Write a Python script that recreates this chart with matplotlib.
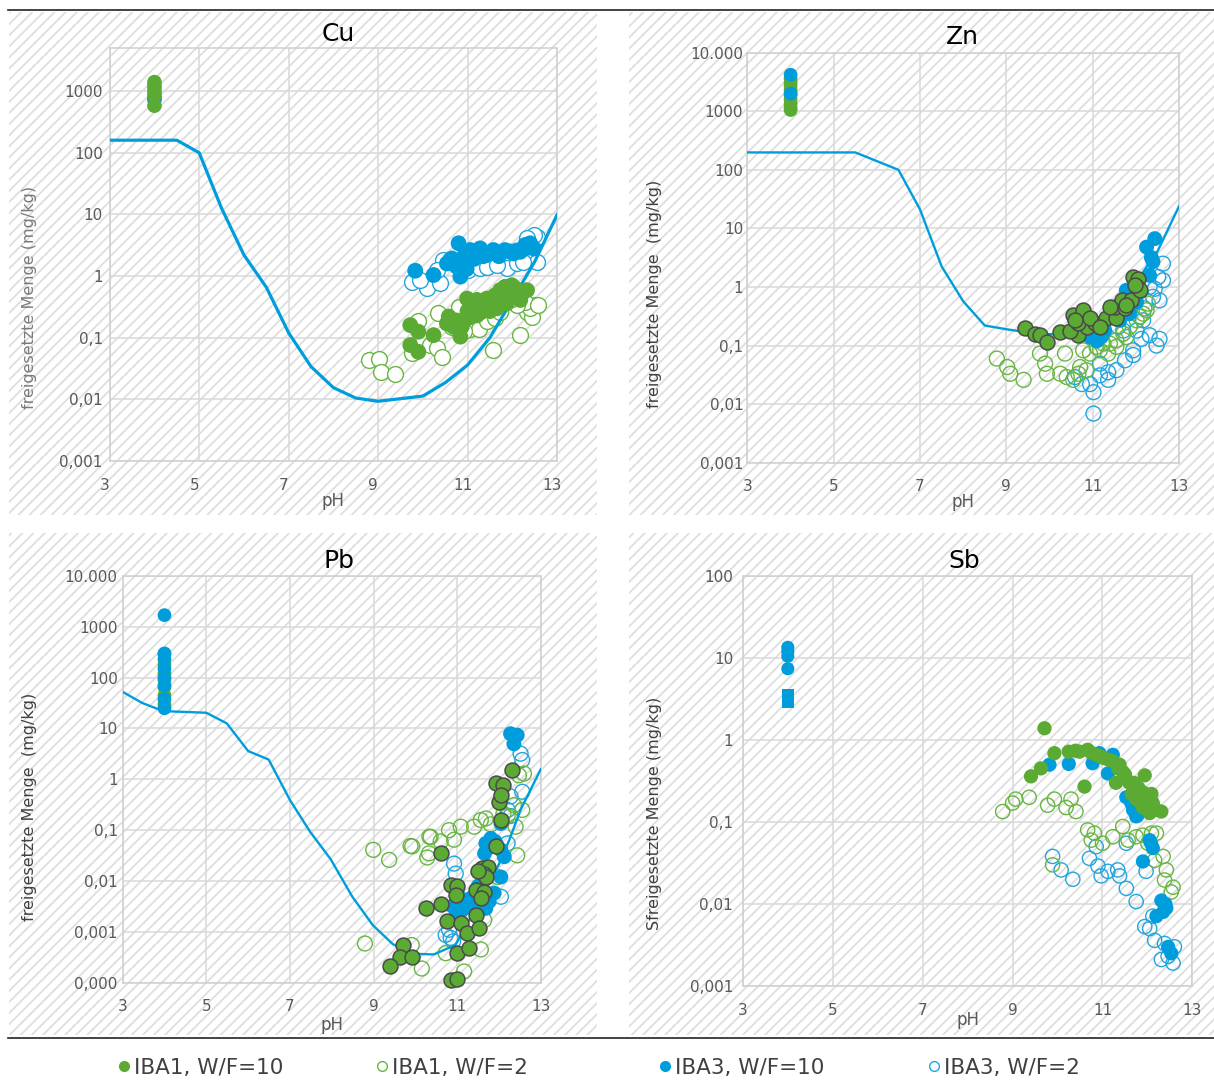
import matplotlib
matplotlib.use("Agg")
import matplotlib.pyplot as plt
from matplotlib.patches import Rectangle
from matplotlib.lines import Line2D
from matplotlib.transforms import ScaledTranslation

# ---------------- DATA ----------------
xticks = [3, 5, 7, 9, 11, 13]

# Cu
cu_f1_ph = [9.72, 9.9, 9.72, 9.9, 10.24, 10.54, 10.58, 10.76, 10.84, 10.87, 10.99, 11.1, 11.21, 11.28, 11.36, 11.43, 11.51, 11.62, 11.73, 11.84, 11.99, 12.07, 12.33, 11.66, 11.21, 11.02, 10.69, 11.88, 12.18, 11.5, 11.8, 12.0, 12.2, 11.3, 11.0]
cu_f1_val = [0.16, 0.125, 0.076, 0.059, 0.11, 0.17, 0.22, 0.19, 0.104, 0.15, 0.43, 0.32, 0.41, 0.34, 0.28, 0.43, 0.36, 0.49, 0.59, 0.67, 0.71, 0.63, 0.59, 0.30, 0.23, 0.21, 0.15, 0.36, 0.41, 0.27, 0.45, 0.5, 0.5, 0.26, 0.27]
cu_o1_ph = [8.8, 9.03, 9.07, 9.38, 9.76, 9.9, 10.35, 10.17, 10.31, 10.43, 10.8, 11.06, 11.25, 11.43, 11.62, 11.58, 11.92, 12.18, 12.33, 12.44, 12.51, 12.4, 12.29, 12.1, 11.99, 10.91, 10.65, 11.73, 12.57]
cu_o1_val = [0.044, 0.045, 0.028, 0.026, 0.056, 0.19, 0.25, 0.076, 0.067, 0.049, 0.32, 0.14, 0.14, 0.19, 0.21, 0.063, 0.41, 0.11, 0.26, 0.22, 0.34, 0.30, 0.38, 0.34, 0.43, 0.13, 0.15, 0.26, 0.34]
cu_f3_ph = [9.83, 10.24, 10.65, 10.8, 10.84, 10.76, 10.95, 11.06, 11.21, 11.28, 11.43, 11.58, 11.73, 11.84, 12.03, 12.18, 12.29, 12.4, 12.48, 10.91, 10.54, 11.13, 11.15, 11.35, 11.7, 11.95, 12.1, 12.35, 10.98]
cu_f3_val = [1.22, 1.04, 1.93, 3.4, 0.98, 1.42, 2.33, 2.64, 2.48, 2.81, 2.19, 2.64, 2.33, 2.64, 2.33, 2.48, 3.2, 3.4, 2.8, 1.6, 1.6, 2.05, 1.9, 2.1, 2.1, 2.5, 2.6, 2.9, 1.3]
cu_o3_ph = [9.76, 10.09, 10.39, 10.46, 11.0, 11.28, 11.5, 11.88, 12.1, 12.55, 12.48, 12.33, 12.56, 9.94, 10.31, 10.61, 10.84, 11.43, 11.66, 12.25]
cu_o3_val = [0.81, 0.63, 0.76, 1.82, 1.25, 1.33, 1.6, 1.33, 1.6, 4.3, 4.6, 4.1, 1.7, 0.87, 1.25, 1.82, 1.42, 1.42, 1.5, 1.7]
cu_ph4_green = [1400, 1250, 1100, 950, 850, 580]
cu_ph4_blue = [780, 720]
cu_line_ph = [3, 4.5, 5, 5.5, 6, 6.5, 7, 7.5, 8, 8.5, 9, 10, 10.5, 11, 11.5, 12, 12.5, 13]
cu_line_val = [160, 160, 100, 12.6, 2.2, 0.66, 0.12, 0.034, 0.0155, 0.0105, 0.0093, 0.0113, 0.0186, 0.036, 0.1, 0.41, 1.7, 9.8]

# Zn
zn_f1_ph = [9.44, 9.67, 9.78, 9.94, 10.25, 10.55, 10.78, 10.67, 10.48, 10.86, 11.05, 11.32, 11.55, 11.52, 11.67, 11.75, 11.9, 11.94, 12.05, 12.02, 12.09, 11.98, 10.67, 10.94, 11.17, 11.4, 11.78, 10.59]
zn_f1_val = [0.2, 0.16, 0.15, 0.115, 0.17, 0.33, 0.4, 0.15, 0.18, 0.21, 0.24, 0.29, 0.29, 0.46, 0.59, 0.43, 0.61, 1.48, 1.39, 1.0, 0.88, 1.07, 0.24, 0.29, 0.21, 0.46, 0.49, 0.27]
zn_o1_ph = [8.78, 9.02, 9.09, 9.4, 9.9, 9.94, 10.25, 10.36, 10.4, 10.55, 10.71, 10.78, 10.86, 10.94, 11.09, 11.25, 11.4, 11.55, 11.71, 11.86, 12.02, 12.17, 12.25, 12.28, 11.78, 11.55, 10.67, 9.78, 11.17, 11.36, 12.09]
zn_o1_val = [0.06, 0.043, 0.033, 0.026, 0.049, 0.033, 0.033, 0.073, 0.029, 0.026, 0.043, 0.083, 0.038, 0.073, 0.095, 0.108, 0.108, 0.123, 0.16, 0.21, 0.27, 0.35, 0.4, 0.52, 0.14, 0.095, 0.033, 0.073, 0.083, 0.073, 0.31]
zn_f3_ph = [12.44, 12.25, 12.36, 12.4, 12.32, 11.78, 11.13, 10.94, 11.63, 11.86, 11.28, 12.02, 11.1, 11.2]
zn_f3_val = [6.7, 4.8, 3.2, 2.7, 1.58, 0.88, 0.13, 0.14, 0.27, 0.35, 0.18, 0.55, 0.12, 0.14]
zn_o3_ph = [10.94, 10.75, 11.02, 11.02, 11.17, 11.36, 11.55, 11.36, 11.75, 11.94, 12.13, 12.32, 12.48, 12.55, 12.55, 12.44, 12.52, 12.63, 12.32, 12.2, 12.02, 12.17, 11.71, 11.59, 11.94, 10.59, 11.17, 12.63, 12.4]
zn_o3_val = [0.022, 0.022, 0.016, 0.0069, 0.031, 0.035, 0.038, 0.026, 0.056, 0.069, 0.13, 0.15, 0.1, 0.13, 0.59, 0.93, 1.48, 2.5, 1.0, 0.43, 0.18, 0.27, 0.18, 0.21, 0.083, 0.029, 0.049, 1.3, 0.68]
zn_ph4_green = [3600, 3100, 2700, 2300, 1900, 1600, 1350, 1150, 1050]
zn_ph4_blue = [4200, 2000]
zn_line_ph = [3, 5.5, 6.5, 7.0, 7.5, 8.0, 8.5, 9.0, 9.8, 10.5, 11, 11.5, 12, 12.5, 13]
zn_line_val = [198, 198, 100, 21, 2.25, 0.57, 0.22, 0.19, 0.155, 0.16, 0.22, 0.45, 1.2, 4.0, 23.7]

# Pb
pb_f1_ph = [12.31, 11.92, 12.08, 12.0, 12.04, 12.04, 11.92, 10.6, 11.6, 11.72, 11.64, 10.84, 11.0, 10.96, 11.44, 11.64, 11.56, 10.24, 10.6, 10.76, 11.08, 11.44, 11.24, 11.52, 11.0, 11.28, 10.84, 11.0, 9.71, 9.63, 9.91, 9.39, 11.68, 11.5]
pb_f1_val = [1.5, 0.83, 0.78, 0.36, 0.49, 0.158, 0.048, 0.035, 0.018, 0.019, 0.014, 0.0083, 0.0078, 0.0054, 0.0066, 0.0062, 0.0046, 0.0029, 0.0036, 0.0016, 0.0015, 0.0021, 0.00093, 0.0012, 0.00038, 0.00048, 0.000115, 0.000118, 0.00055, 0.00032, 0.00032, 0.00021, 0.012, 0.016]
pb_o1_ph = [8.79, 10.15, 9.91, 8.99, 9.37, 9.88, 10.33, 10.28, 9.92, 10.36, 10.8, 11.08, 11.4, 11.56, 11.68, 12.2, 12.39, 12.43, 12.55, 12.59, 12.47, 12.35, 10.32, 10.92, 11.96, 11.64, 11.56, 11.16, 10.72, 10.6, 11.8, 12.1]
pb_o1_val = [0.00059, 0.00019, 0.00055, 0.041, 0.026, 0.049, 0.074, 0.029, 0.048, 0.074, 0.1, 0.117, 0.117, 0.158, 0.17, 0.19, 0.117, 0.032, 0.25, 1.3, 1.2, 0.31, 0.035, 0.065, 0.012, 0.0017, 0.00045, 0.000166, 0.00038, 0.06, 0.13, 0.21]
pb_f3_ph = [12.27, 12.43, 12.35, 11.68, 11.8, 12.04, 12.12, 11.6, 12.04, 11.76, 11.68, 11.2, 11.12, 10.96, 10.88, 11.36, 11.0, 12.04, 11.56, 11.88, 11.5, 11.3, 11.75, 11.9, 11.65]
pb_f3_val = [7.9, 7.4, 5.0, 0.055, 0.069, 0.041, 0.03, 0.0104, 0.012, 0.004, 0.0029, 0.004, 0.0027, 0.002, 0.0032, 0.0034, 0.0058, 0.135, 0.0066, 0.0058, 0.008, 0.0045, 0.045, 0.06, 0.035]
pb_o3_ph = [12.51, 12.55, 12.55, 12.2, 12.27, 10.92, 10.96, 12.04, 10.72, 10.84, 12.27, 12.2, 10.8, 10.9]
pb_o3_val = [3.2, 2.4, 0.57, 0.25, 0.46, 0.022, 0.014, 0.0049, 0.00087, 0.00076, 0.19, 0.055, 0.0011, 0.00065]
pb_ph4_green = [290, 180, 120, 90, 65, 45, 30]
pb_ph4_blue = [1700, 300, 230, 150, 100, 70, 38, 25]
pb_line_ph = [3, 3.46, 3.97, 5.0, 5.49, 6.0, 6.49, 7.0, 7.48, 7.97, 8.49, 8.98, 9.46, 9.93, 10.44, 10.95, 11.5, 12.0, 12.24, 12.51, 12.99]
pb_line_val = [52.7, 32, 22, 20.4, 12.6, 3.6, 2.45, 0.39, 0.093, 0.027, 0.0049, 0.00135, 0.00057, 0.00037, 0.00036, 0.00055, 0.0035, 0.022, 0.064, 0.25, 1.57]

# Sb
sb_f1_ph = [9.71, 9.93, 10.25, 9.41, 9.63, 10.6, 10.49, 10.67, 10.86, 11.04, 11.23, 11.38, 11.45, 11.3, 11.53, 11.68, 11.94, 11.83, 11.97, 12.09, 12.05, 12.31, 12.12, 11.75, 11.6, 11.9,
            10.4, 10.75, 10.95, 11.15, 11.35, 11.5, 11.7, 11.8, 11.9, 12.0, 12.1, 12.2, 11.65, 11.85]
sb_f1_val = [1.39, 0.69, 0.72, 0.36, 0.45, 0.27, 0.72, 0.76, 0.66, 0.6, 0.55, 0.5, 0.41, 0.3, 0.33, 0.27, 0.37, 0.22, 0.19, 0.22, 0.128, 0.134, 0.17, 0.19, 0.3, 0.15,
             0.74, 0.7, 0.63, 0.57, 0.45, 0.38, 0.3, 0.26, 0.23, 0.2, 0.16, 0.14, 0.22, 0.17]
sb_o1_ph = [8.78, 9.0, 9.07, 9.37, 9.78, 9.93, 10.19, 10.3, 10.41, 10.67, 10.82, 11.0, 11.23, 11.45, 11.57, 11.75, 11.9, 12.09, 12.2, 12.16, 12.35, 12.42, 12.38, 12.53, 12.57, 9.89, 10.75, 12.01]
sb_o1_val = [0.134, 0.17, 0.19, 0.2, 0.16, 0.19, 0.15, 0.19, 0.134, 0.08, 0.073, 0.055, 0.066, 0.088, 0.06, 0.066, 0.069, 0.073, 0.073, 0.034, 0.038, 0.026, 0.0196, 0.014, 0.016, 0.03, 0.06, 0.055]
sb_f3_ph = [9.82, 10.25, 10.78, 11.23, 11.12, 11.64, 11.75, 11.68, 12.05, 12.12, 11.9, 12.31, 12.42, 12.2, 12.46, 12.53, 10.93, 11.53, 11.7, 11.78, 11.72, 12.08, 12.4, 12.35]
sb_f3_val = [0.5, 0.51, 0.52, 0.66, 0.39, 0.17, 0.117, 0.14, 0.06, 0.048, 0.033, 0.011, 0.0089, 0.0071, 0.003, 0.0025, 0.69, 0.2, 0.15, 0.12, 0.2, 0.055, 0.01, 0.008]
sb_o3_ph = [9.89, 10.08, 10.34, 10.71, 10.9, 10.97, 11.12, 11.34, 11.38, 11.53, 11.75, 10.86, 11.53, 11.97, 11.94, 12.05, 12.16, 12.38, 12.6, 12.46, 12.57, 12.31, 12.12]
sb_o3_val = [0.038, 0.026, 0.02, 0.036, 0.029, 0.022, 0.025, 0.026, 0.022, 0.0155, 0.0107, 0.05, 0.055, 0.025, 0.0053, 0.005, 0.0036, 0.0033, 0.003, 0.0023, 0.0019, 0.0021, 0.0071]
sb_ph4_blue = [13.5, 12, 10.5, 7.4]
sb_ph4_square = [3.5, 3.2, 2.9]

legend_labels = ["IBA1, W/F=10", "IBA1, W/F=2", "IBA3, W/F=10", "IBA3, W/F=2"]

# ---------------- STYLE ----------------
BLUE = '#009ddc'
GREEN = '#5aaa33'
GREEN_O = '#68b642'
BLUE_O = '#22a5de'
DARK = '#404040'
GRID = '#d9d9d9'
TICKC = '#595959'

plt.rcParams['font.family'] = ['DejaVu Sans']
plt.rcParams['hatch.linewidth'] = 1.3

W, H = 1214, 1088
fig = plt.figure(figsize=(W / 100, H / 100), dpi=100)

def px_rect(x0, y0, x1, y1):
    return (x0 / W, 1 - y1 / H, (x1 - x0) / W, (y1 - y0) / H)

for (x0, y0, x1, y1) in [(8.5, 12, 597, 515), (628.5, 12, 1214, 515),
                         (8.5, 533, 597, 1035), (628.5, 533, 1214, 1035)]:
    l, b, w, h = px_rect(x0, y0, x1, y1)
    fig.add_artist(Rectangle((l, b), w, h, transform=fig.transFigure,
                             facecolor='white', edgecolor='#dedede', hatch='///',
                             linewidth=0, zorder=-5))

fig.add_artist(Line2D([8 / W, 1], [1 - 10 / H, 1 - 10 / H], color='#222222', lw=1.2, zorder=-4))
fig.add_artist(Line2D([8 / W, 1], [1 - 1038 / H, 1 - 1038 / H], color='#222222', lw=1.2, zorder=-4))


def panel(rect, ylim, yticks, ylabels, title, title_xy, ylabel, ylab_xy, xlab_y,
          f1, o1, f3, o3, line, ph4_green, ph4_blue, green_edge, open_fill,
          ph4_green_top, xshift=0.0, ypad=3.5, lw=1.6, msize=90):
    ax = fig.add_axes(rect)
    ax.set_facecolor('none')
    ax.set_xlim(3, 13)
    ax.set_yscale('log')
    ax.set_ylim(*ylim)
    ax.set_xticks(xticks)
    ax.set_xticklabels([str(t) for t in xticks])
    ax.set_yticks(yticks)
    ax.set_yticklabels(ylabels)
    ax.minorticks_off()
    ax.grid(True, color=GRID, lw=1.1, zorder=0)
    ax.set_axisbelow(True)
    for s in ax.spines.values():
        s.set_color('#cfcfcf')
        s.set_linewidth(1.1)
    ax.tick_params(axis='both', length=0, labelsize=11, labelcolor=TICKC)
    ax.tick_params(axis='x', pad=12)
    ax.tick_params(axis='y', pad=ypad)
    if xshift:
        for lab in ax.get_xticklabels():
            lab.set_transform(lab.get_transform() + ScaledTranslation(xshift / 100, 0, fig.dpi_scale_trans))
    ax.set_xlabel('pH', fontsize=12, color=TICKC)
    ax.xaxis.set_label_coords(0.5, xlab_y)
    ax.set_ylabel(ylabel, fontsize=11.5, color=ylab_xy[2])
    ax.yaxis.set_label_coords(ylab_xy[0], ylab_xy[1])
    fig.text(title_xy[0] / W, 1 - title_xy[1] / H, title, fontsize=18, color='black',
             ha='center', va='center')

    # open circles
    ax.scatter(o3[0], o3[1], s=msize, facecolors=open_fill, edgecolors=BLUE_O,
               linewidths=1.0, zorder=2, clip_on=False)
    ax.scatter(o1[0], o1[1], s=msize, facecolors=open_fill, edgecolors=GREEN_O,
               linewidths=1.0, zorder=2.1, clip_on=False)
    # model line
    if line is not None:
        ax.plot(line[0], line[1], color=BLUE, lw=lw, zorder=3, solid_joinstyle='round')
    # filled
    ax.scatter(f3[0], f3[1], s=msize, color=BLUE, edgecolors='none', zorder=4, clip_on=False)
    if green_edge:
        ax.scatter(f1[0], f1[1], s=msize, color=GREEN, edgecolors='#4a4a4a',
                   linewidths=1.1, zorder=4.1, clip_on=False)
    else:
        ax.scatter(f1[0], f1[1], s=msize, color=GREEN, edgecolors='none', zorder=4.1, clip_on=False)
    # pH 4 column
    zg, zb = (5.1, 5.0) if ph4_green_top else (5.0, 5.1)
    if ph4_green:
        ax.scatter([4.0] * len(ph4_green), ph4_green, s=msize * 0.85, color=GREEN,
                   edgecolors='none', zorder=zg, clip_on=False)
    if ph4_blue:
        ax.scatter([4.0] * len(ph4_blue), ph4_blue, s=msize * 0.85, color=BLUE,
                   edgecolors='none', zorder=zb, clip_on=False)
    return ax


# Cu
panel([0.0904, 0.5763, 0.3684, 0.3796], (1e-3, 10 ** 3.7),
      [1e-3, 1e-2, 1e-1, 1, 10, 100, 1000], ['0,001', '0,01', '0,1', '1', '10', '100', '1000'],
      'Cu', (338, 34), 'freigesetzte Menge (mg/kg)', (-0.163, 0.395, '#7a7a7a'), -0.075,
      (cu_f1_ph, cu_f1_val), (cu_o1_ph, cu_o1_val), (cu_f3_ph, cu_f3_val), (cu_o3_ph, cu_o3_val),
      (cu_line_ph, cu_line_val), cu_ph4_green, cu_ph4_blue, False, 'white', True,
      xshift=-5, ypad=5, lw=2.3, msize=130)

# Zn
panel([0.6157, 0.5747, 0.3554, 0.3769], (1e-3, 1e4),
      [1e-3, 1e-2, 1e-1, 1, 10, 100, 1000, 1e4], ['0,001', '0,01', '0,1', '1', '10', '100', '1000', '10.000'],
      'Zn', (962, 37), 'freigesetzte Menge  (mg/kg)', (-0.198, 0.411, DARK), -0.075,
      (zn_f1_ph, zn_f1_val), (zn_o1_ph, zn_o1_val), (zn_f3_ph, zn_f3_val), (zn_o3_ph, zn_o3_val),
      (zn_line_ph, zn_line_val), zn_ph4_green, zn_ph4_blue, True, 'none', False,
      ypad=3, lw=1.7, msize=115)

# Pb
panel([0.1010, 0.0968, 0.3447, 0.3738], (1e-4, 1e4),
      [1e-4, 1e-3, 1e-2, 1e-1, 1, 10, 100, 1000, 1e4],
      ['0,000', '0,001', '0,01', '0,1', '1', '10', '100', '1000', '10.000'],
      'Pb', (339, 561), 'freigesetzte Menge  (mg/kg)', (-0.205, 0.432, DARK), -0.083,
      (pb_f1_ph, pb_f1_val), (pb_o1_ph, pb_o1_val), (pb_f3_ph, pb_f3_val), (pb_o3_ph, pb_o3_val),
      (pb_line_ph, pb_line_val), pb_ph4_green, pb_ph4_blue, True, 'none', False,
      ypad=3.5, lw=1.7, msize=115)

# Sb
ax_sb = panel([0.6119, 0.0938, 0.3703, 0.3768], (1e-3, 1e2),
              [1e-3, 1e-2, 1e-1, 1, 10, 100], ['0,001', '0,01', '0,1', '1', '10', '100'],
              'Sb', (964, 561), 'Sfreigesetzte Menge (mg/kg)', (-0.18, 0.422, DARK), -0.06,
              (sb_f1_ph, sb_f1_val), (sb_o1_ph, sb_o1_val), (sb_f3_ph, sb_f3_val), (sb_o3_ph, sb_o3_val),
              None, [], sb_ph4_blue, False, 'none', False,
              ypad=7, msize=105)
ax_sb.scatter([4.0] * len(sb_ph4_square), sb_ph4_square, s=80, marker='s', color=BLUE,
              edgecolors='none', zorder=5)

# Legend
leg_specs = [(124, GREEN, GREEN), (382, 'white', GREEN_O), (665, BLUE, BLUE), (934, 'white', BLUE_O)]
for (xpx, fc, ec), lab in zip(leg_specs, legend_labels):
    h = Line2D([], [], marker='o', ls='', markersize=7, markerfacecolor=fc,
               markeredgecolor=ec, markeredgewidth=1.0)
    leg = fig.legend([h], [lab], loc='center left', bbox_to_anchor=((xpx - 8) / W, 1 - 1068 / H),
                     frameon=False, fontsize=15.5, handlelength=0.7, handletextpad=0.15,
                     borderpad=0, borderaxespad=0)
    for t in leg.get_texts():
        t.set_color(DARK)

fig.savefig('out.png', dpi=100)
